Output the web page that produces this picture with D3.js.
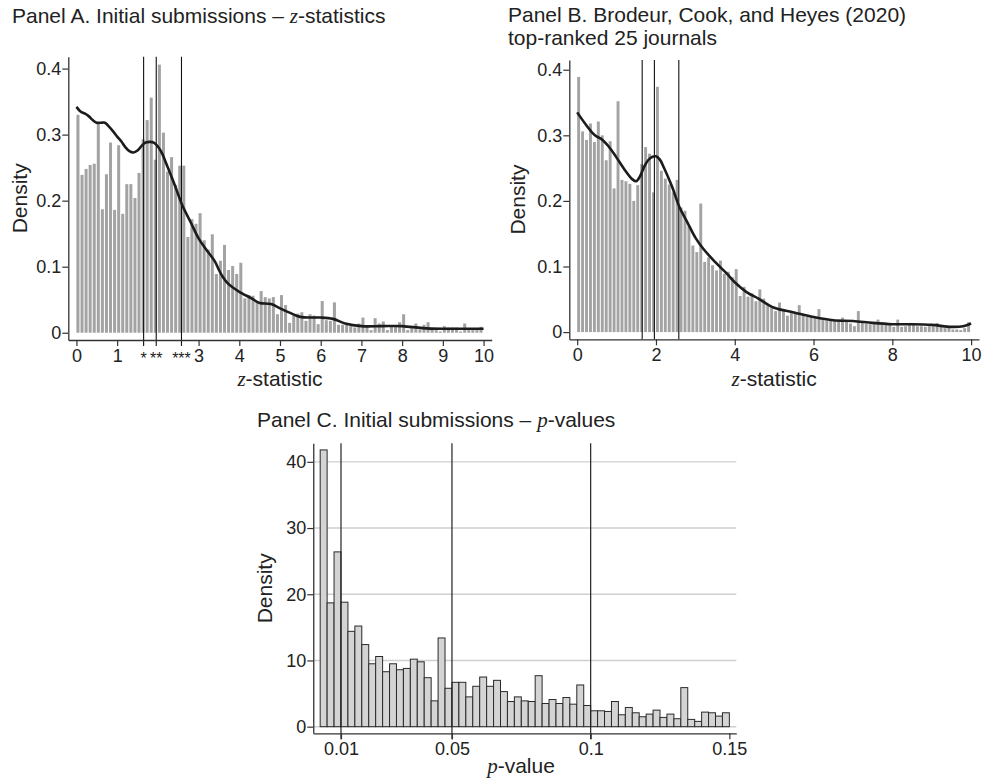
<!DOCTYPE html>
<html>
<head>
<meta charset="utf-8">
<title>z-statistics and p-values</title>
<script src="https://d3js.org/d3.v7.min.js"></script>
<style>
  body { margin: 0; background: #fff; }
  text { font-family: "Liberation Sans", Arial, Helvetica, sans-serif; fill: #222; }
  .it { font-family: "Liberation Serif", "Times New Roman", serif; font-style: italic; }
</style>
</head>
<body>
<svg id="chart" width="984" height="783"></svg>
<script>
// bins of 0.1 from 0 to 10
const zBinWidth = 0.1;
const zA = [0.330, 0.239, 0.248, 0.254, 0.256, 0.317, 0.187, 0.240, 0.288, 0.186,
            0.284, 0.180, 0.225, 0.225, 0.204, 0.242, 0.293, 0.322, 0.356, 0.262,
            0.406, 0.303, 0.244, 0.266, 0.224, 0.253, 0.253, 0.145, 0.172, 0.165,
            0.181, 0.140, 0.126, 0.149, 0.089, 0.109, 0.133, 0.095, 0.101, 0.089,
            0.106, 0.052, 0.057, 0.056, 0.047, 0.063, 0.054, 0.052, 0.054, 0.028,
            0.057, 0.042, 0.015, 0.026, 0.029, 0.031, 0.018, 0.028, 0.026, 0.013,
            0.048, 0.019, 0.018, 0.046, 0.012, 0.012, 0.012, 0.010, 0.008, 0.014,
            0.023, 0.009, 0.004, 0.022, 0.014, 0.017, 0.004, 0.009, 0.009, 0.016,
            0.028, 0.004, 0.007, 0.014, 0.005, 0.012, 0.016, 0.007, 0.004, 0.002,
            0.010, 0.008, 0.008, 0.008, 0.002, 0.014, 0.004, 0.004, 0.004, 0.009];
const zB = [0.389, 0.306, 0.293, 0.318, 0.290, 0.321, 0.300, 0.262, 0.291, 0.219,
            0.352, 0.232, 0.230, 0.226, 0.200, 0.224, 0.256, 0.282, 0.272, 0.213,
            0.374, 0.246, 0.234, 0.225, 0.213, 0.232, 0.190, 0.185, 0.162, 0.132,
            0.122, 0.196, 0.107, 0.114, 0.102, 0.094, 0.109, 0.089, 0.092, 0.084,
            0.096, 0.055, 0.069, 0.054, 0.059, 0.047, 0.065, 0.051, 0.041, 0.038,
            0.032, 0.045, 0.032, 0.025, 0.031, 0.031, 0.041, 0.028, 0.023, 0.023,
            0.023, 0.035, 0.021, 0.018, 0.018, 0.017, 0.018, 0.022, 0.016, 0.013,
            0.009, 0.032, 0.016, 0.013, 0.012, 0.013, 0.019, 0.012, 0.013, 0.011,
            0.008, 0.019, 0.008, 0.009, 0.014, 0.011, 0.009, 0.009, 0.008, 0.009,
            0.009, 0.014, 0.008, 0.006, 0.007, 0.004, 0.004, 0.003, 0.006, 0.015];

// kernel density lines
const kdeAx = [0, 0.1, 0.2, 0.3, 0.4, 0.5, 0.6, 0.7, 0.8, 0.9, 1.0, 1.1, 1.2, 1.3, 1.4, 1.5, 1.6, 1.7, 1.8, 1.9,
               2.0, 2.1, 2.2, 2.4, 2.6, 2.8, 3.0, 3.2, 3.4, 3.5, 3.6, 3.7, 3.85, 4.0, 4.3, 4.5, 4.7, 4.8, 5.0,
               5.25, 5.5, 5.75, 6.0, 6.3, 6.6, 7.0, 7.5, 8.0, 8.5, 9.0, 9.5, 10];
const kdeAy = [0.342, 0.335, 0.332, 0.328, 0.322, 0.318, 0.318, 0.318, 0.312, 0.305, 0.297, 0.290, 0.281, 0.275,
               0.273, 0.276, 0.283, 0.288, 0.289, 0.288, 0.282, 0.272, 0.257, 0.226, 0.193, 0.168, 0.143, 0.125,
               0.108, 0.095, 0.084, 0.076, 0.068, 0.062, 0.052, 0.045, 0.044, 0.043, 0.037, 0.030, 0.024, 0.023,
               0.023, 0.021, 0.014, 0.010, 0.010, 0.010, 0.007, 0.006, 0.006, 0.006];
const kdeBx = [0, 0.2, 0.4, 0.5, 0.6, 0.8, 1.0, 1.2, 1.4, 1.5, 1.6, 1.7, 1.8, 1.9, 2.0, 2.1, 2.2, 2.4, 2.6, 2.8,
               3.0, 3.2, 3.5, 3.8, 4.0, 4.3, 4.6, 5.0, 5.5, 6.0, 6.5, 7.0, 7.5, 8.0, 8.5, 9.0, 9.5, 9.8, 10];
const kdeBy = [0.335, 0.318, 0.303, 0.298, 0.295, 0.283, 0.266, 0.248, 0.233, 0.230, 0.238, 0.252, 0.262, 0.267,
               0.268, 0.263, 0.251, 0.223, 0.190, 0.167, 0.144, 0.127, 0.107, 0.089, 0.076, 0.061, 0.051, 0.037,
               0.030, 0.023, 0.018, 0.017, 0.014, 0.012, 0.012, 0.011, 0.008, 0.009, 0.013];

const critZ = [1.65, 1.96, 2.58];

// p-value bins of 0.0025 starting at 0.0025
const pStart = 0.0025, pBinWidth = 0.0025;
const pVals = [41.8, 18.7, 26.4, 18.8, 14.4, 15.2, 12.4, 9.5, 10.6, 8.3,
               9.5, 8.6, 8.8, 10.2, 9.8, 7.4, 3.9, 13.4, 5.8, 6.7,
               6.7, 4.5, 6.1, 7.5, 6.1, 7.0, 5.3, 3.8, 4.5, 3.9,
               3.8, 7.7, 3.5, 4.1, 3.5, 4.4, 3.4, 6.3, 3.2, 2.4,
               2.4, 2.3, 3.8, 1.8, 2.9, 2.1, 1.5, 1.9, 2.5, 1.4,
               1.9, 1.2, 5.9, 1.1, 0.8, 2.2, 2.1, 1.6, 2.1];
const critP = [0.01, 0.05, 0.1];
const pTicks = [0.01, 0.05, 0.1, 0.15];

const svg = d3.select("#chart");
svg.append("rect").attr("width", 984).attr("height", 783).attr("fill", "#fff");

function styleAxis(g) {
  g.selectAll(".domain").attr("stroke", "#333").attr("stroke-width", 1.3);
  g.selectAll(".tick line").attr("stroke", "#333").attr("stroke-width", 1.2);
  g.selectAll(".tick text").style("font-size", "18px").attr("fill", "#222")
    .style("font-family", '"Liberation Sans", Arial, sans-serif');
}

function italicLabel(sel, letter, rest) {
  sel.append("tspan").attr("class", "it").text(letter);
  sel.append("tspan").text(rest);
}

function zPanel(opt) {
  const x = d3.scaleLinear().domain([-0.2, 10.2]).range([opt.left, opt.right]);
  const y = d3.scaleLinear().domain([-0.011, opt.ymax]).range([opt.bottom, opt.top]);
  const g = svg.append("g");

  g.selectAll("rect.bar").data(opt.vals).enter().append("rect")
    .attr("class", "bar")
    .attr("x", (d, i) => x(i * zBinWidth))
    .attr("width", x(zBinWidth * 0.74) - x(0))
    .attr("y", d => y(d))
    .attr("height", d => y(0) - y(d))
    .attr("fill", "#a3a3a3");

  g.selectAll("line.crit").data(critZ).enter().append("line")
    .attr("class", "crit")
    .attr("x1", d => x(d)).attr("x2", d => x(d))
    .attr("y1", y.range()[1]).attr("y2", opt.bottom + opt.critExt)
    .attr("stroke", "#111").attr("stroke-width", 1.1);

  const line = d3.line().x(d => x(d[0])).y(d => y(d[1])).curve(d3.curveCatmullRom);
  g.append("path").datum(opt.kx.map((v, i) => [v, opt.ky[i]]))
    .attr("d", line).attr("fill", "none").attr("stroke", "#1c1c1c").attr("stroke-width", 2.6);

  g.append("g").attr("transform", `translate(${opt.left},0)`)
    .call(d3.axisLeft(y).tickValues([0, 0.1, 0.2, 0.3, 0.4]).tickFormat(d3.format("~g")).tickSize(6).tickPadding(1).tickSizeOuter(0))
    .call(styleAxis);
  g.append("g").attr("transform", `translate(0,${opt.bottom})`)
    .call(d3.axisBottom(x).tickValues(opt.xticks).tickFormat(d3.format("d")).tickSize(6).tickPadding(3).tickSizeOuter(0))
    .call(styleAxis);

  g.append("text").attr("transform", `translate(${opt.ylabX},${(opt.top + opt.bottom) / 2}) rotate(-90)`)
    .attr("text-anchor", "middle").attr("dominant-baseline", "central").style("font-size", "21px").text("Density");
  italicLabel(g.append("text").attr("x", (opt.left + opt.right) / 2).attr("y", 386)
    .attr("text-anchor", "middle").style("font-size", "21px"), "z", "-statistic");
  return {g, x, y};
}

// Panel A
const pa = zPanel({left: 68.3, right: 491.7, top: 56.7, bottom: 340, ymax: 0.418, vals: zA,
  kx: kdeAx, ky: kdeAy, xticks: [0, 1, 3, 4, 5, 6, 7, 8, 9, 10], critExt: 6, ylabX: 19});
pa.g.selectAll("text.star").data(critZ).enter().append("text")
  .attr("class", "star")
  .attr("x", d => pa.x(d)).attr("y", 364).attr("text-anchor", "middle")
  .style("font-size", "16px").attr("fill", "#999")
  .text((d, i) => "*".repeat(i + 1));
const tA = svg.append("text").attr("x", 12).attr("y", 23).style("font-size", "21px");
tA.append("tspan").text("Panel A. Initial submissions \u2013 ");
italicLabel(tA, "z", "-statistics");

// Panel B
zPanel({left: 569.3, right: 979, top: 59.9, bottom: 339.3, ymax: 0.415, vals: zB,
  kx: kdeBx, ky: kdeBy, xticks: [0, 2, 4, 6, 8, 10], critExt: 0, ylabX: 517});
// Panel B x-scale is anchored at 0 -> 576.7 (same construction, slightly different offsets)
svg.append("text").attr("x", 508).attr("y", 22).style("font-size", "21px")
  .text("Panel B. Brodeur, Cook, and Heyes (2020)");
svg.append("text").attr("x", 508).attr("y", 45).style("font-size", "21px")
  .text("top-ranked 25 journals");

// Panel C
const xC = d3.scaleLinear().domain([0, 0.1525]).range([313.25, 736.3]);
const yC = d3.scaleLinear().domain([-1, 42.8]).range([733.3, 443.3]);
const gC = svg.append("g");

gC.selectAll("line.grid").data([0, 10, 20, 30, 40]).enter().append("line")
  .attr("class", "grid")
  .attr("x1", xC(0)).attr("x2", xC(0.1525))
  .attr("y1", d => yC(d)).attr("y2", d => yC(d))
  .attr("stroke", "#cfcfcf").attr("stroke-width", 1.4);

gC.selectAll("rect.bar").data(pVals).enter().append("rect")
  .attr("class", "bar")
  .attr("x", (d, i) => xC(pStart + i * pBinWidth))
  .attr("width", xC(pBinWidth) - xC(0))
  .attr("y", d => yC(d))
  .attr("height", d => yC(0) - yC(d))
  .attr("fill", "#d4d4d4").attr("stroke", "#2a2a2a").attr("stroke-width", 1);

gC.selectAll("line.crit").data(critP).enter().append("line")
  .attr("class", "crit")
  .attr("x1", d => xC(d)).attr("x2", d => xC(d))
  .attr("y1", yC.range()[1]).attr("y2", yC.range()[0] + 6)
  .attr("stroke", "#222").attr("stroke-width", 1.2);

gC.append("g").attr("transform", `translate(${xC.range()[0]},0)`)
  .call(d3.axisLeft(yC).tickValues([0, 10, 20, 30, 40]).tickSize(6).tickPadding(1).tickSizeOuter(0))
  .call(styleAxis);
gC.append("g").attr("transform", `translate(0,${yC.range()[0]})`)
  .call(d3.axisBottom(xC).tickValues(pTicks).tickFormat(d3.format("~g")).tickSize(6).tickPadding(3).tickSizeOuter(0))
  .call(styleAxis);

gC.append("text").attr("transform", `translate(264,${(443.3 + 733.3) / 2}) rotate(-90)`)
  .attr("text-anchor", "middle").attr("dominant-baseline", "central").style("font-size", "21px").text("Density");
italicLabel(gC.append("text").attr("x", 521).attr("y", 773)
  .attr("text-anchor", "middle").style("font-size", "21px"), "p", "-value");
const tC = svg.append("text").attr("x", 257).attr("y", 427).style("font-size", "21px");
tC.append("tspan").text("Panel C. Initial submissions \u2013 ");
italicLabel(tC, "p", "-values");
</script>
</body>
</html>
